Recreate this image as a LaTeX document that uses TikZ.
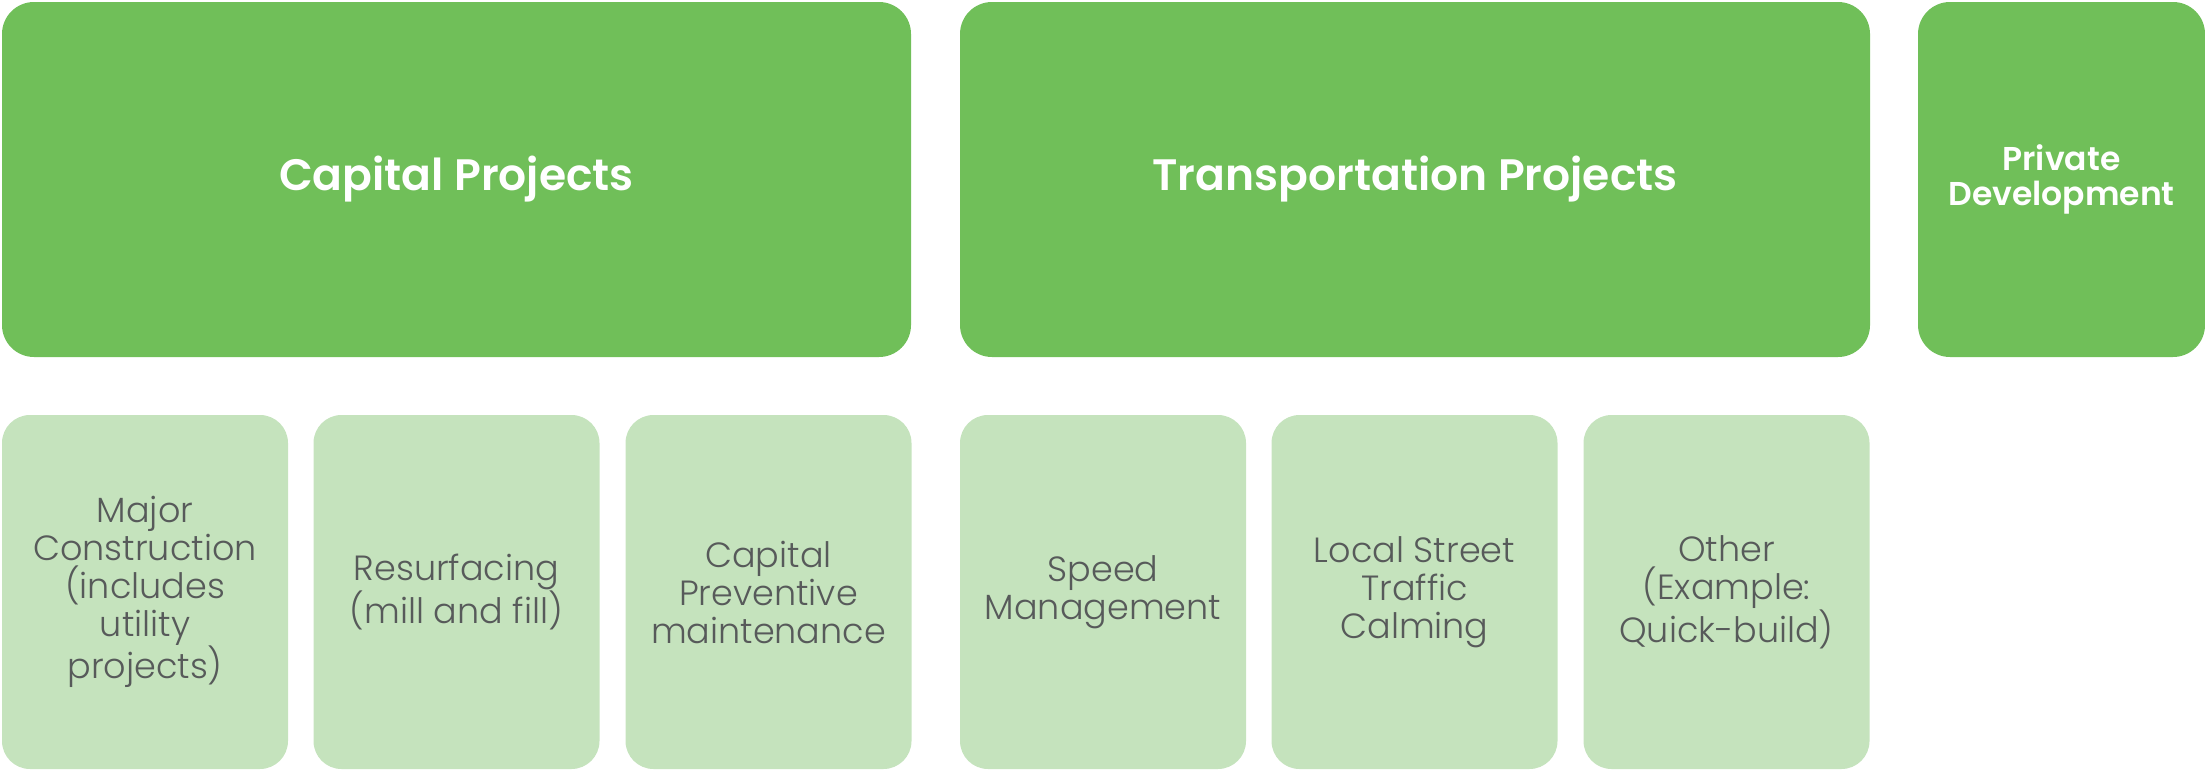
\documentclass[tikz,border=0pt]{standalone}
\usepackage{fontspec}
\setmainfont{Poppins}
\newfontfamily\headfont{Poppins}[UprightFont=* SemiBold]
\newfontfamily\bodyfont{Poppins}[UprightFont=* Light]
\definecolor{darkgreen}{HTML}{70BF59}
\definecolor{lightgreen}{HTML}{C5E3BD}
\definecolor{textgray}{HTML}{575A5A}
\tikzset{
  topbox/.style={fill=darkgreen, draw=none, rounded corners=32pt, inner sep=0pt, outer sep=0pt,
    text=white, align=center, font=\headfont\fontsize{44}{50}\selectfont},
  subbox/.style={fill=lightgreen, draw=none, rounded corners=28pt, inner sep=0pt, outer sep=0pt,
    minimum width=286pt, minimum height=354pt, text=textgray, align=center,
    font=\bodyfont\fontsize{35}{38}\selectfont}
}
\begin{document}
\begin{tikzpicture}[x=1pt,y=-1pt]
\useasboundingbox (0,0) rectangle (2205,771);
\node[topbox, minimum width=909pt, minimum height=355pt] (cap) at (456.5,179.5) {Capital Projects};
\node[topbox, minimum width=910pt, minimum height=355pt] (trans) at (1415,179.5) {Transportation Projects};
\node[topbox, minimum width=287pt, minimum height=355pt, font=\headfont\fontsize{33}{35}\selectfont] (priv) at (2061.5,179.5) {Private\\Development};
\node[subbox] (s1) at (145,592) {Major\\Construction\\(includes\\utility\\projects)};
\node[subbox] (s2) at (456.5,592) {Resurfacing\\(mill and fill)};
\node[subbox] (s3) at (768.5,592) {Capital\\Preventive\\maintenance};
\node[subbox] (s4) at (1103,592) {Speed\\Management};
\node[subbox] (s5) at (1414.5,592) {Local Street\\Traffic\\Calming};
\node[subbox] (s6) at (1726.5,592) {Other\\(Example:\\Quick-build)};
\end{tikzpicture}
\end{document}
